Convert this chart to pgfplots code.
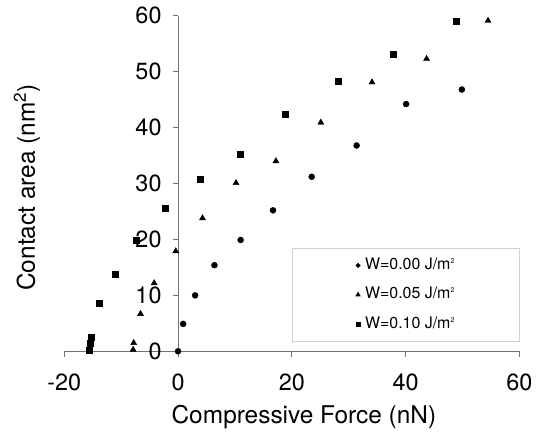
\documentclass[border=0pt]{standalone}
\usepackage{pgfplots}
\usepackage{pgfplotstable}
\pgfplotsset{compat=1.18}
\usepackage{fontspec}
\setmainfont{TeX Gyre Heros}

% Contact area vs. compressive force for three adhesion energies W
\pgfplotstableread{
x y
0.0 0.0
0.9 4.9
3.0 10.0
6.4 15.4
11.0 19.9
16.7 25.2
23.5 31.2
31.4 36.8
40.1 44.2
49.9 46.8
}\wzero

\pgfplotstableread{
x y
-7.9 0.3
-7.8 1.5
-6.6 6.7
-4.2 12.2
-0.4 17.9
4.3 23.8
10.2 30.1
17.2 34.0
25.1 40.9
34.1 48.1
43.7 52.3
54.5 59.1
}\wfive

\pgfplotstableread{
x y
-15.6 0.2
-15.5 1.4
-15.3 2.6
-13.9 8.6
-11.1 13.8
-7.4 19.9
-2.2 25.5
3.9 30.8
11.0 35.2
18.9 42.3
28.2 48.3
37.8 53.1
48.9 59.1
}\wten

\newcommand{\Jm}{J/m\textsuperscript{\scriptsize 2}\hspace{-8bp}}

\begin{document}
\begin{tikzpicture}
\begin{axis}[
  name=ax,
  scale only axis,
  width=455bp, height=335.6bp,
  xmin=-20, xmax=60, ymin=0, ymax=60,
  axis lines=middle,
  axis line style={black!55, line width=1bp, -},
  hide obscured x ticks=false, hide obscured y ticks=false,
  xtick={-20,0,...,60}, ytick={0,10,...,60},
  tick align=outside,
  major tick length=5.5bp,
  tick style={black!55, line width=1bp},
  /pgf/number format/assume math mode=true,
  ticklabel style={font=\fontsize{23.5}{28}\selectfont},
  xticklabel style={yshift=-14bp},
  yticklabel style={xshift=-7.5bp},
  xlabel={Compressive Force (nN)},
  ylabel={Contact area (nm\textsuperscript{2})},
  label style={font=\fontsize{24.5}{29}\selectfont},
  xlabel style={at={(rel axis cs:0.5266,-0.2166)}, anchor=base},
  ylabel style={at={(rel axis cs:-0.0644,0.488)}, rotate=90, anchor=base},
  legend style={at={(rel axis cs:1,0.0286)}, anchor=south east,
    draw=black!18, line width=0.8bp, fill=white,
    font=\fontsize{16}{19}\selectfont,
    inner xsep=64bp, inner ysep=9.5bp, row sep=13.8bp,
    /tikz/column sep=5bp,
    nodes={inner sep=0bp, text height=12bp, text depth=3.5bp}},
  legend cell align=left,
  legend image code/.code={\draw[#1, mark options={scale=0.65}] plot coordinates {(0bp,0bp)};},
]
\addplot[black, only marks, mark=*, mark size=3bp] table {\wzero};
\addlegendentry{W=0.00 \Jm}
\addplot[black, only marks, mark=triangle*, mark size=3.5bp] table {\wfive};
\addlegendentry{W=0.05 \Jm}
\addplot[black, only marks, mark=square*, mark size=3bp] table {\wten};
\addlegendentry{W=0.10 \Jm}
\end{axis}
\path ([xshift=-64.3bp,yshift=-77.7bp]ax.south west) rectangle ([xshift=22.7bp,yshift=15.7bp]ax.north east);
\end{tikzpicture}
\end{document}
